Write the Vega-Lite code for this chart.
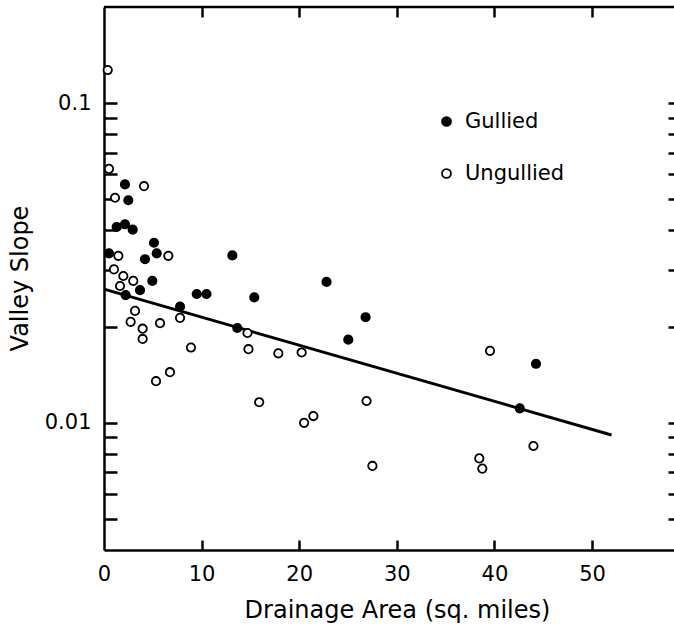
{
  "$schema": "https://vega.github.io/schema/vega-lite/v6.json",
  "width": 570,
  "height": 543,
  "autosize": "none",
  "padding": {"left": 104, "top": 7, "right": 0, "bottom": 76},
  "background": "white",
  "config": {
    "view": {"stroke": null},
    "font": "DejaVu Sans",
    "axis": {
      "grid": false,
      "domainColor": "black",
      "domainWidth": 2.5,
      "tickColor": "black",
      "tickWidth": 2.5,
      "labelColor": "black",
      "labelFont": "DejaVu Sans",
      "labelFontSize": 21,
      "titleColor": "black",
      "titleFont": "DejaVu Sans",
      "titleFontSize": 24,
      "titleFontWeight": "normal",
      "labelFlush": false,
      "labelOverlap": false
    }
  },
  "datasets": {
    "frame": [
      {"area": 0, "area2": 58.4, "slope": 0.2}
    ],
    "fit": [
      {"area": 0, "slope": 0.0262},
      {"area": 52, "slope": 0.00916}
    ],
    "points": [
      {"area": 2.15, "slope": 0.0557, "group": "Gullied"},
      {"area": 2.49, "slope": 0.0497, "group": "Gullied"},
      {"area": 1.3, "slope": 0.041, "group": "Gullied"},
      {"area": 2.15, "slope": 0.0418, "group": "Gullied"},
      {"area": 2.94, "slope": 0.0402, "group": "Gullied"},
      {"area": 5.12, "slope": 0.0366, "group": "Gullied"},
      {"area": 0.51, "slope": 0.0339, "group": "Gullied"},
      {"area": 5.4, "slope": 0.0339, "group": "Gullied"},
      {"area": 4.2, "slope": 0.0325, "group": "Gullied"},
      {"area": 4.95, "slope": 0.0278, "group": "Gullied"},
      {"area": 3.69, "slope": 0.026, "group": "Gullied"},
      {"area": 2.22, "slope": 0.0251, "group": "Gullied"},
      {"area": 9.5, "slope": 0.0253, "group": "Gullied"},
      {"area": 10.5, "slope": 0.0253, "group": "Gullied"},
      {"area": 7.79, "slope": 0.0231, "group": "Gullied"},
      {"area": 13.15, "slope": 0.0334, "group": "Gullied"},
      {"area": 22.8, "slope": 0.0276, "group": "Gullied"},
      {"area": 15.4, "slope": 0.0247, "group": "Gullied"},
      {"area": 13.66, "slope": 0.0198, "group": "Gullied"},
      {"area": 26.8, "slope": 0.0214, "group": "Gullied"},
      {"area": 25.03, "slope": 0.0182, "group": "Gullied"},
      {"area": 44.26, "slope": 0.0153, "group": "Gullied"},
      {"area": 42.6, "slope": 0.0111, "group": "Gullied"},
      {"area": 0.38, "slope": 0.127, "group": "Ungullied"},
      {"area": 0.51, "slope": 0.0623, "group": "Ungullied"},
      {"area": 4.1, "slope": 0.055, "group": "Ungullied"},
      {"area": 1.13, "slope": 0.0506, "group": "Ungullied"},
      {"area": 1.47, "slope": 0.0333, "group": "Ungullied"},
      {"area": 6.59, "slope": 0.0333, "group": "Ungullied"},
      {"area": 1.02, "slope": 0.0302, "group": "Ungullied"},
      {"area": 1.98, "slope": 0.0288, "group": "Ungullied"},
      {"area": 3.0, "slope": 0.0278, "group": "Ungullied"},
      {"area": 1.64, "slope": 0.0268, "group": "Ungullied"},
      {"area": 3.18, "slope": 0.0224, "group": "Ungullied"},
      {"area": 2.73, "slope": 0.0207, "group": "Ungullied"},
      {"area": 3.96, "slope": 0.0197, "group": "Ungullied"},
      {"area": 5.74, "slope": 0.0205, "group": "Ungullied"},
      {"area": 7.79, "slope": 0.0213, "group": "Ungullied"},
      {"area": 3.96, "slope": 0.0183, "group": "Ungullied"},
      {"area": 8.91, "slope": 0.0172, "group": "Ungullied"},
      {"area": 6.76, "slope": 0.0144, "group": "Ungullied"},
      {"area": 5.33, "slope": 0.0135, "group": "Ungullied"},
      {"area": 14.7, "slope": 0.0191, "group": "Ungullied"},
      {"area": 14.8, "slope": 0.017, "group": "Ungullied"},
      {"area": 17.86, "slope": 0.0165, "group": "Ungullied"},
      {"area": 20.25, "slope": 0.0166, "group": "Ungullied"},
      {"area": 15.9, "slope": 0.0116, "group": "Ungullied"},
      {"area": 20.5, "slope": 0.01, "group": "Ungullied"},
      {"area": 21.45, "slope": 0.0105, "group": "Ungullied"},
      {"area": 39.55, "slope": 0.0168, "group": "Ungullied"},
      {"area": 26.9, "slope": 0.0117, "group": "Ungullied"},
      {"area": 44.0, "slope": 0.00846, "group": "Ungullied"},
      {"area": 27.5, "slope": 0.00733, "group": "Ungullied"},
      {"area": 38.45, "slope": 0.00774, "group": "Ungullied"},
      {"area": 38.76, "slope": 0.00719, "group": "Ungullied"}
    ]
  },
  "layer": [
    {
      "data": {"name": "frame"},
      "mark": {"type": "rule", "color": "black", "strokeWidth": 2.5},
      "encoding": {
        "x": {
          "field": "area",
          "type": "quantitative",
          "scale": {"domain": [0, 58.4], "nice": false, "zero": false},
          "axis": {
            "orient": "bottom",
            "values": [10, 20, 30, 40, 50],
            "offset": -10,
            "tickSize": 10,
            "domain": false,
            "labels": false,
            "title": null
          }
        },
        "x2": {"field": "area2"},
        "y": {
          "field": "slope",
          "type": "quantitative",
          "scale": {"type": "log", "domain": [0.004, 0.2], "nice": false},
          "axis": {
            "orient": "left",
            "values": [0.1, 0.09, 0.08, 0.07, 0.06, 0.05, 0.04, 0.03, 0.02, 0.01, 0.009, 0.008, 0.007, 0.006, 0.005],
            "offset": -13,
            "tickSize": 13,
            "domain": false,
            "labels": false,
            "title": null
          }
        }
      }
    },
    {
      "data": {"name": "fit"},
      "mark": {"type": "line", "color": "black", "strokeWidth": 3},
      "encoding": {
        "x": {
          "field": "area",
          "type": "quantitative",
          "scale": {"domain": [0, 58.4], "nice": false, "zero": false},
          "axis": {
            "orient": "top",
            "values": [10, 20, 30, 40, 50],
            "offset": -10,
            "tickSize": 10,
            "domain": false,
            "labels": false,
            "title": null
          }
        },
        "y": {
          "field": "slope",
          "type": "quantitative",
          "scale": {"type": "log", "domain": [0.004, 0.2], "nice": false},
          "axis": {
            "orient": "right",
            "values": [0.1, 0.09, 0.08, 0.07, 0.06, 0.05, 0.04, 0.03, 0.02, 0.01, 0.009, 0.008, 0.007, 0.006, 0.005],
            "offset": -6,
            "tickSize": 6,
            "domain": false,
            "labels": false,
            "title": null
          }
        }
      }
    },
    {
      "data": {"name": "points"},
      "mark": {"type": "circle", "size": 70, "stroke": "black", "strokeWidth": 1.8, "opacity": 1},
      "encoding": {
        "x": {
          "field": "area",
          "type": "quantitative",
          "scale": {"domain": [0, 58.4], "nice": false, "zero": false},
          "axis": {
            "orient": "bottom",
            "values": [0, 10, 20, 30, 40, 50],
            "ticks": false,
            "labelPadding": 13,
            "title": "Drainage Area (sq. miles)",
            "titleX": 293,
            "titleY": 67,
            "titleBaseline": "alphabetic"
          }
        },
        "y": {
          "field": "slope",
          "type": "quantitative",
          "scale": {"type": "log", "domain": [0.004, 0.2], "nice": false},
          "axis": {
            "orient": "left",
            "values": [0.1, 0.01],
            "labelExpr": "datum.value == 0.1 ? '0.1' : '0.01'",
            "ticks": false,
            "labelPadding": 13,
            "title": "Valley Slope",
            "titleX": -84,
            "titleY": 271,
            "titleAngle": -90,
            "titleAlign": "center",
            "titleBaseline": "middle"
          }
        },
        "fill": {
          "field": "group",
          "type": "nominal",
          "scale": {"domain": ["Gullied", "Ungullied"], "range": ["black", "white"]},
          "legend": {
            "title": null,
            "orient": "none",
            "legendX": 332,
            "legendY": 104,
            "padding": 0,
            "symbolType": "circle",
            "symbolSize": 80,
            "symbolStrokeColor": "black",
            "symbolStrokeWidth": 1.8,
            "labelFont": "DejaVu Sans",
            "labelFontSize": 21,
            "labelColor": "black",
            "labelOffset": 8,
            "rowPadding": 30
          }
        }
      }
    }
  ],
  "resolve": {"axis": {"x": "independent", "y": "independent"}}
}
